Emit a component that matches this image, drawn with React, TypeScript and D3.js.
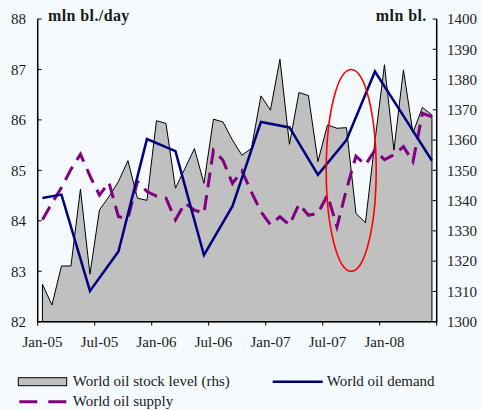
import * as d3 from 'd3';

// monthly categories Jan-05 .. Jun-08
const months = d3.timeMonth.range(new Date(2005, 0, 1), new Date(2008, 6, 1)).map(d3.timeFormat('%b-%y'));

// world oil stock level, mln bl. (rhs)
const stockLevel = [
  1312.4, 1305.5, 1318.4, 1318.4, 1343.8, 1315.7, 1336.9, 1341.3, 1346.3, 1353.2,
  1340.8, 1340.1, 1366.4, 1365.5, 1344.1, 1350.6, 1357.2, 1345.7, 1366.9, 1366.0,
  1360.0, 1355.0, 1357.3, 1374.6, 1369.9, 1386.7, 1358.6, 1375.7, 1374.7, 1352.9,
  1365.0, 1363.9, 1364.1, 1335.8, 1332.7, 1359.6, 1384.9, 1356.7, 1383.2, 1362.4,
  1370.8, 1368.3,
];

// world oil supply, mln bl./day
const supply = [
  84.02, 84.35, 84.66, 85.02, 85.32, 84.89, 84.51, 84.76, 84.08, 84.05,
  84.78, 84.58, 84.49, 84.45, 84.02, 84.35, 84.21, 84.15, 85.40, 85.20,
  84.74, 84.99, 84.57, 84.18, 83.92, 84.08, 83.92, 84.33, 84.11, 84.15,
  84.51, 83.88, 84.62, 85.28, 85.11, 85.40, 85.21, 85.31, 85.47, 85.17,
  86.13, 86.06,
];

// world oil demand, quarterly, mln bl./day
const demandMonths = ['Jan-05', 'Mar-05', 'Jun-05', 'Sep-05', 'Dec-05', 'Mar-06', 'Jun-06', 'Sep-06',
  'Dec-06', 'Mar-07', 'Jun-07', 'Sep-07', 'Dec-07', 'Mar-08', 'Jun-08'];
const demand = [84.45, 84.52, 82.61, 83.39, 85.62, 85.38, 83.32, 84.29, 85.96, 85.85, 84.91, 85.6, 86.96, 86.08, 85.19];

const leftTicks = [82, 83, 84, 85, 86, 87, 88];
const rightTicks = [1300, 1310, 1320, 1330, 1340, 1350, 1360, 1370, 1380, 1390, 1400];
const xTickLabels = ['Jan-05', 'Jul-05', 'Jan-06', 'Jul-06', 'Jan-07', 'Jul-07', 'Jan-08'];

const font = '"Liberation Serif", "Times New Roman", serif';
const ink = '#1a1a1a';

export default function App() {
  const width = 481;
  const height = 410;
  const left = 37.7, right = 436.7, top = 19, bottom = 321.7;

  const x = d3.scaleBand().domain(months).range([left, right]).padding(0);
  const cx = (m: string) => (x(m) as number) + x.bandwidth() / 2;
  const yL = d3.scaleLinear().domain([82, 88]).range([bottom, top]);
  const yR = d3.scaleLinear().domain([1300, 1400]).range([bottom, top]);

  const area = d3.area<number>()
    .x((_, i) => cx(months[i]))
    .y0(yR(1300))
    .y1(d => yR(d));

  const supplyLine = d3.line<number>()
    .x((_, i) => cx(months[i]))
    .y(d => yL(d));

  const demandLine = d3.line<number>()
    .x((_, i) => cx(demandMonths[i]))
    .y(d => yL(d));

  // highlight ellipse around the autumn 2007 stock drop
  const ex = x('Oct-07') as number;
  const erx = x.bandwidth() * 2.63;
  const ey = (yL(87) + yL(83)) / 2;
  const ery = (yL(83) - yL(87)) / 2;

  const xTicks = d3.range(0, months.length + 1, 6).map(i => left + i * x.bandwidth());

  return (
    <svg width={width} height={height} style={{ position: 'absolute', left: 0, top: 0 }} fontFamily={font}>
      <rect width={width} height={height} fill="#F5FAFE" />

      <path d={area(stockLevel) ?? ''} fill="#C0C0C0" stroke="#000" strokeWidth={1} strokeLinejoin="miter" />
      <path d={supplyLine(supply) ?? ''} fill="none" stroke="#800080" strokeWidth={3} strokeDasharray="15,8" />
      <path d={demandLine(demand) ?? ''} fill="none" stroke="#000080" strokeWidth={2.5} />
      <ellipse cx={ex} cy={ey} rx={erx} ry={ery} fill="none" stroke="#FF0000" strokeWidth={1.6} />

      {/* axes */}
      <g stroke="#000" strokeWidth={1.5}>
        <line x1={left} x2={left} y1={top} y2={bottom + 0.7} />
        <line x1={right} x2={right} y1={top} y2={bottom + 0.7} />
        <line x1={left} x2={right} y1={bottom} y2={bottom} />
      </g>
      <g stroke="#000" strokeWidth={1}>
        {leftTicks.map(t => <line key={t} x1={left} x2={left + 4} y1={yL(t)} y2={yL(t)} />)}
        {rightTicks.map(t => <line key={t} x1={right - 4} x2={right} y1={yR(t)} y2={yR(t)} />)}
        {xTicks.map((t, i) => <line key={i} x1={t} x2={t} y1={bottom} y2={bottom + 4} />)}
      </g>

      <g fontSize={15} fill={ink}>
        {leftTicks.map(t => (
          <text key={t} x={26} y={yL(t)} dy="0.35em" textAnchor="end">{t}</text>
        ))}
        {rightTicks.map(t => (
          <text key={t} x={447} y={yR(t)} dy="0.35em">{t}</text>
        ))}
        {xTickLabels.map(m => (
          <text key={m} x={cx(m)} y={347} textAnchor="middle">{m}</text>
        ))}
      </g>

      <g fontSize={16} fontWeight="bold" fill={ink} letterSpacing={0.4}>
        <text x={48} y={21}>mln bl./day</text>
        <text x={426.7} y={21} textAnchor="end">mln bl.</text>
      </g>

      {/* legend */}
      <g fontSize={15} fill={ink}>
        <rect x={18.3} y={377.7} width={48.4} height={8} fill="#C0C0C0" stroke="#000" strokeWidth={1} />
        <text x={72.7} y={386}>World oil stock level (rhs)</text>
        <line x1={272.7} x2={322.7} y1={381.7} y2={381.7} stroke="#000080" strokeWidth={2.5} />
        <text x={326.7} y={386}>World oil demand</text>
        <line x1={19.3} x2={66.7} y1={401.7} y2={401.7} stroke="#800080" strokeWidth={3} strokeDasharray="18,11" />
        <text x={72.7} y={406}>World oil supply</text>
      </g>
    </svg>
  );
}
